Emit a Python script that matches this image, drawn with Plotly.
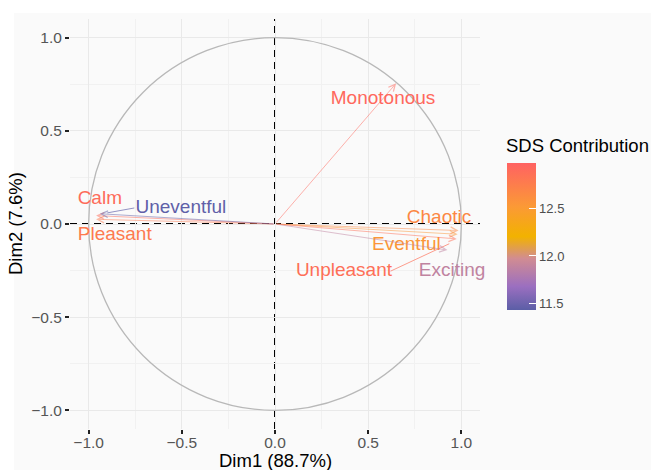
import plotly.graph_objects as go
from plotly.colors import sample_colorscale

# ---- data ----
variables = ["Monotonous", "Chaotic", "Eventful", "Unpleasant", "Exciting", "Calm", "Pleasant", "Uneventful"]
dim1 = [0.65, 0.985, 0.98, 0.975, 0.925, -0.96, -0.96, -0.94]
dim2 = [0.755, -0.035, -0.055, -0.08, -0.14, 0.045, 0.025, 0.055]
contrib = [12.93, 12.67, 12.55, 12.87, 11.88, 12.90, 12.78, 11.45]
label_x = [0.58, 0.88, 0.705, 0.37, 0.95, -0.94, -0.86, -0.505]
label_y = [0.667, 0.03, -0.113, -0.253, -0.253, 0.134, -0.06, 0.086]
leader_labels = ["Unpleasant", "Uneventful"]
tick_vals = [-1.0, -0.5, 0.0, 0.5, 1.0]
minor_vals = [-0.75, -0.25, 0.25, 0.75]
cbar_ticks = [11.5, 12.0, 12.5]
x_title = "Dim1 (88.7%)"
y_title = "Dim2 (7.6%)"
cbar_title = "SDS Contribution"

CMIN, CMAX = 11.43, 12.98
colorscale = [
    [0.0, "#5b5ea6"],
    [0.16, "#9b6fc0"],
    [0.35, "#d18c92"],
    [0.5, "#f2b200"],
    [0.7, "#fb9a35"],
    [1.0, "#ff6262"],
]

FONT = "Liberation Sans, Arial, sans-serif"
BG = "#fafafa"


def to_rgb_tuple(c):
    c = c.strip()
    if c.startswith("rgb"):
        vals = c[c.index("(") + 1:c.index(")")].split(",")
        return tuple(float(v) for v in vals[:3])
    c = c.lstrip("#")
    return tuple(int(c[i:i + 2], 16) for i in (0, 2, 4))


norm = [(v - CMIN) / (CMAX - CMIN) for v in contrib]
cols = sample_colorscale(colorscale, norm)
rgb = [to_rgb_tuple(c) for c in cols]
solid = ["rgb(%d,%d,%d)" % r for r in rgb]
faded = ["rgba(%d,%d,%d,0.5)" % r for r in rgb]
leader_col = ["rgba(%d,%d,%d,0.75)" % r for r in rgb]

fig = go.Figure()

# labels
fig.add_trace(go.Scatter(
    x=label_x, y=label_y, mode="text", text=variables,
    textposition="middle center", cliponaxis=False,
    textfont=dict(size=19, color=solid, family=FONT),
    hoverinfo="skip", showlegend=False,
))

# colorbar carrier (invisible markers at arrow tips)
fig.add_trace(go.Scatter(
    x=dim1, y=dim2, mode="markers",
    marker=dict(
        size=1, opacity=0, color=contrib, colorscale=colorscale,
        cmin=CMIN, cmax=CMAX, showscale=True,
        colorbar=dict(
            x=(507 - 70) / 410, xanchor="left", xpad=0,
            y=(429 - 236.5) / 410, yanchor="middle", ypad=0,
            thickness=29, thicknessmode="pixels",
            len=147, lenmode="pixels",
            outlinewidth=0,
            tickvals=cbar_ticks, ticktext=["%.1f" % v for v in cbar_ticks],
            ticks="inside", ticklen=7, tickcolor="white", tickwidth=1,
            tickfont=dict(size=13, color="#4d4d4d", family=FONT),
        ),
    ),
    hoverinfo="skip", showlegend=False,
))

# arrows
for i, name in enumerate(variables):
    fig.add_annotation(
        x=dim1[i], y=dim2[i], ax=0, ay=0,
        xref="x", yref="y", axref="x", ayref="y",
        showarrow=True, arrowhead=5, arrowsize=1.3, arrowwidth=1,
        arrowcolor=faded[i], text="",
    )

# repel leader lines from label edge to point
for name in leader_labels:
    i = variables.index(name)
    half_w = 0.025 * len(name)
    if dim1[i] > label_x[i]:
        sx = label_x[i] + half_w
    else:
        sx = label_x[i] - half_w
    sy = label_y[i]
    ex = dim1[i] - 0.04 * (1 if dim1[i] > sx else -1)
    ey = dim2[i] + (sy - dim2[i]) * 0.15
    fig.add_shape(type="line", x0=sx, y0=sy, x1=ex, y1=ey, xref="x", yref="y",
                  line=dict(color=leader_col[i], width=0.9), layer="above")

# correlation circle
fig.add_shape(type="circle", x0=-1, y0=-1, x1=1, y1=1, xref="x", yref="y",
              line=dict(color="#b8b8b8", width=1.3), layer="between")
# dashed zero lines
fig.add_shape(type="line", x0=0, x1=0, y0=0, y1=1, xref="x", yref="paper",
              line=dict(color="black", width=2, dash="7px,5px"), layer="between")
fig.add_shape(type="line", x0=0, x1=1, y0=0, y1=0, xref="paper", yref="y",
              line=dict(color="black", width=2, dash="7px,5px"), layer="between")

# white border strips of the original image
fig.add_shape(type="rect", xref="paper", yref="paper",
              x0=-70 / 410, x1=(14 - 70) / 410, y0=-41 / 410, y1=429 / 410,
              line=dict(width=0), fillcolor="white", layer="below")
fig.add_shape(type="rect", xref="paper", yref="paper",
              x0=-70 / 410, x1=581 / 410, y0=(429 - 13) / 410, y1=429 / 410,
              line=dict(width=0), fillcolor="white", layer="below")

# axis titles and colorbar title
fig.add_annotation(text=x_title, xref="paper", yref="paper", x=0.5, y=(429 - 460) / 410,
                   xanchor="center", yanchor="middle", showarrow=False,
                   font=dict(size=18.5, color="black", family=FONT))
fig.add_annotation(text=y_title, xref="paper", yref="paper", x=(15 - 70) / 410, y=0.5,
                   xanchor="center", yanchor="middle", showarrow=False, textangle=-90,
                   font=dict(size=18.5, color="black", family=FONT))
fig.add_annotation(text=cbar_title, xref="paper", yref="paper", x=(504 - 70) / 410,
                   y=(429 - 145) / 410, xanchor="left", yanchor="middle", showarrow=False,
                   font=dict(size=18.5, color="black", family=FONT))

axis_common = dict(
    range=[-1.1, 1.1], tickvals=tick_vals, tickformat=".1f",
    showgrid=True, gridcolor="#e9e9e9", gridwidth=1,
    minor=dict(tickvals=minor_vals, showgrid=True, gridcolor="#f1f1f1", gridwidth=0.7, ticks=""),
    zeroline=False, showline=False,
    ticks="outside", ticklen=4, tickwidth=2, tickcolor="#222222",
    tickfont=dict(size=15.5, color="#555555", family=FONT),
    fixedrange=True,
)
fig.update_xaxes(**axis_common, ticklabelstandoff=-5)
fig.update_yaxes(**axis_common)

fig.update_layout(
    width=651, height=470,
    margin=dict(l=70, r=171, t=19, b=41),
    paper_bgcolor=BG, plot_bgcolor=BG,
    font=dict(family=FONT),
    showlegend=False,
)

fig.write_html("out.html")
